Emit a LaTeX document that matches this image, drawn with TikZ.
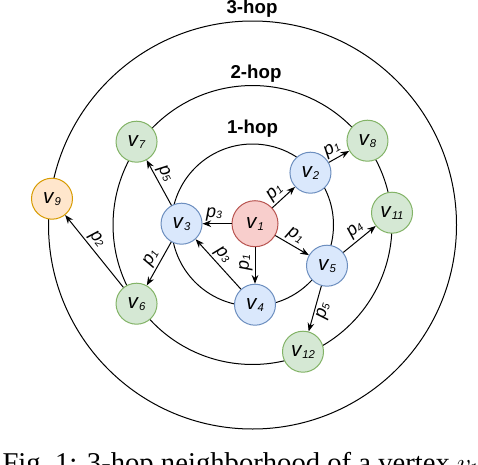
\documentclass[tikz,border=0pt]{standalone}
\usepackage{fontspec}
\setmainfont{Liberation Serif}
\newfontfamily\drawfont{Liberation Sans}
\usetikzlibrary{positioning,arrows.meta}
\definecolor{rootfill}{HTML}{F8CECC}
\definecolor{rootline}{HTML}{B85450}
\definecolor{nearfill}{HTML}{DAE8FC}
\definecolor{nearline}{HTML}{6C8EBF}
\definecolor{midfill}{HTML}{D5E8D4}
\definecolor{midline}{HTML}{82B366}
\definecolor{farfill}{HTML}{FFE6CC}
\definecolor{farline}{HTML}{D79B00}
\newcommand{\vtx}[1]{\textit{v}\raisebox{-1.5pt}{\fontsize{8.5}{9}\selectfont\textit{#1}}}
\newcommand{\plab}[1]{\textit{p}\raisebox{-1pt}{\fontsize{8}{9}\selectfont\textit{#1}}}

\begin{document}
\begin{tikzpicture}[x=0.75pt,y=-0.75pt,line width=0.75pt]
 \tikzstyle{vert}=[circle,draw,inner sep=0,minimum size=30.75pt,on grid,font=\drawfont\fontsize{15.5}{16}\selectfont]
 \tikzstyle{root}=[vert,fill=rootfill,draw=rootline,minimum size=34.5pt]
 \tikzstyle{near}=[vert,fill=nearfill,draw=nearline]
 \tikzstyle{mid}=[vert,fill=midfill,draw=midline]
 \tikzstyle{far}=[vert,fill=farfill,draw=farline]
 \tikzstyle{hoplab}=[inner sep=0,anchor=base,font=\drawfont\bfseries\fontsize{14}{15}\selectfont]
 \tikzstyle{lab}=[sloped,inner sep=1.5pt,font=\drawfont\fontsize{13.5}{14}\selectfont]
 \tikzstyle{arc}=[-{Stealth[length=6.5pt,width=5pt]}]
 \tikzstyle{cra}=[{Stealth[length=6.5pt,width=5pt]}-]
 \tikzstyle{capt}=[inner sep=0,anchor=base west,font=\fontsize{21.5}{24}\selectfont]
  \useasboundingbox (0,0) rectangle (478,464);
  \clip (0,0) rectangle (478,464);
  % hop rings
  \coordinate (hub) at (252.5,225);
  \draw (hub) circle[radius=60.75pt];
  \draw (hub) circle[radius=104.6pt];
  \draw (hub) circle[radius=153pt];
  \node[hoplab] (hop3) at (252,13.3) {3-hop};
  \node[hoplab] (hop2) at (256,78.3) {2-hop};
  \node[hoplab] (hop1) at (252.5,133) {1-hop};
  % vertices
  \node[root] (v1) at (255,223.7) {\vtx{1}};
  \node[near] (v2) [above right=38.25pt and 41.6pt of v1] {\vtx{2}};
  \node[near] (v3) [left=55.1pt of v1] {\vtx{3}};
  \node[near] (v4) [below=60.75pt of v1] {\vtx{4}};
  \node[near] (v5) [below right=31.5pt and 54pt of v1] {\vtx{5}};
  \node[mid] (v8) [above right=24pt and 42.75pt of v2] {\vtx{8}};
  \node[mid] (v7) [above left=61.5pt and 33.75pt of v3] {\vtx{7}};
  \node[mid] (v6) [below left=60pt and 33.75pt of v3] {\vtx{6}};
  \node[far] (v9) [above left=78.75pt and 63.4pt of v6] {\vtx{9}};
  \node[mid] (v11) [above right=39.75pt and 48.75pt of v5] {\vtx{11}};
  \node[mid] (v12) [below left=64.5pt and 18pt of v5] {\vtx{12}};
  % edges
\draw[arc] (v1) -- node[lab,pos=.4,above] (l12) {\plab{1}} (v2);
\draw[arc] (v1) -- node[lab,pos=.6,above] (l13) {\plab{3}} (v3);
\draw[cra] (v4) -- node[lab,pos=.59,above] (l14) {\plab{1}} (v1);
\draw[arc] (v1) -- node[lab,pos=.45,above] (l15) {\plab{1}} (v5);
\draw[arc] (v2) -- node[lab,pos=.4,above] (l28) {\plab{1}} (v8);
\draw[arc] (v3) -- node[lab,pos=.6,above] (l37) {\plab{5}} (v7);
\draw[arc] (v3) -- node[lab,pos=.47,above] (l36) {\plab{1}} (v6);
\draw[arc] (v4) -- node[lab,pos=.56,above] (l43) {\plab{3}} (v3);
\draw[arc] (v6) -- node[lab,pos=.58,above] (l69) {\plab{2}} (v9);
\draw[arc] (v5) -- node[lab,pos=.56,above] (l511) {\plab{4}} (v11);
\draw[arc] (v5) -- node[lab,pos=.5,below] (l512) {\plab{5}} (v12);
  % caption, cut by the page edge
  \node[capt] (cap) at (2,472) {Fig.~1: 3-hop neighborhood of a vertex $v_1$};
\end{tikzpicture}
\end{document}
